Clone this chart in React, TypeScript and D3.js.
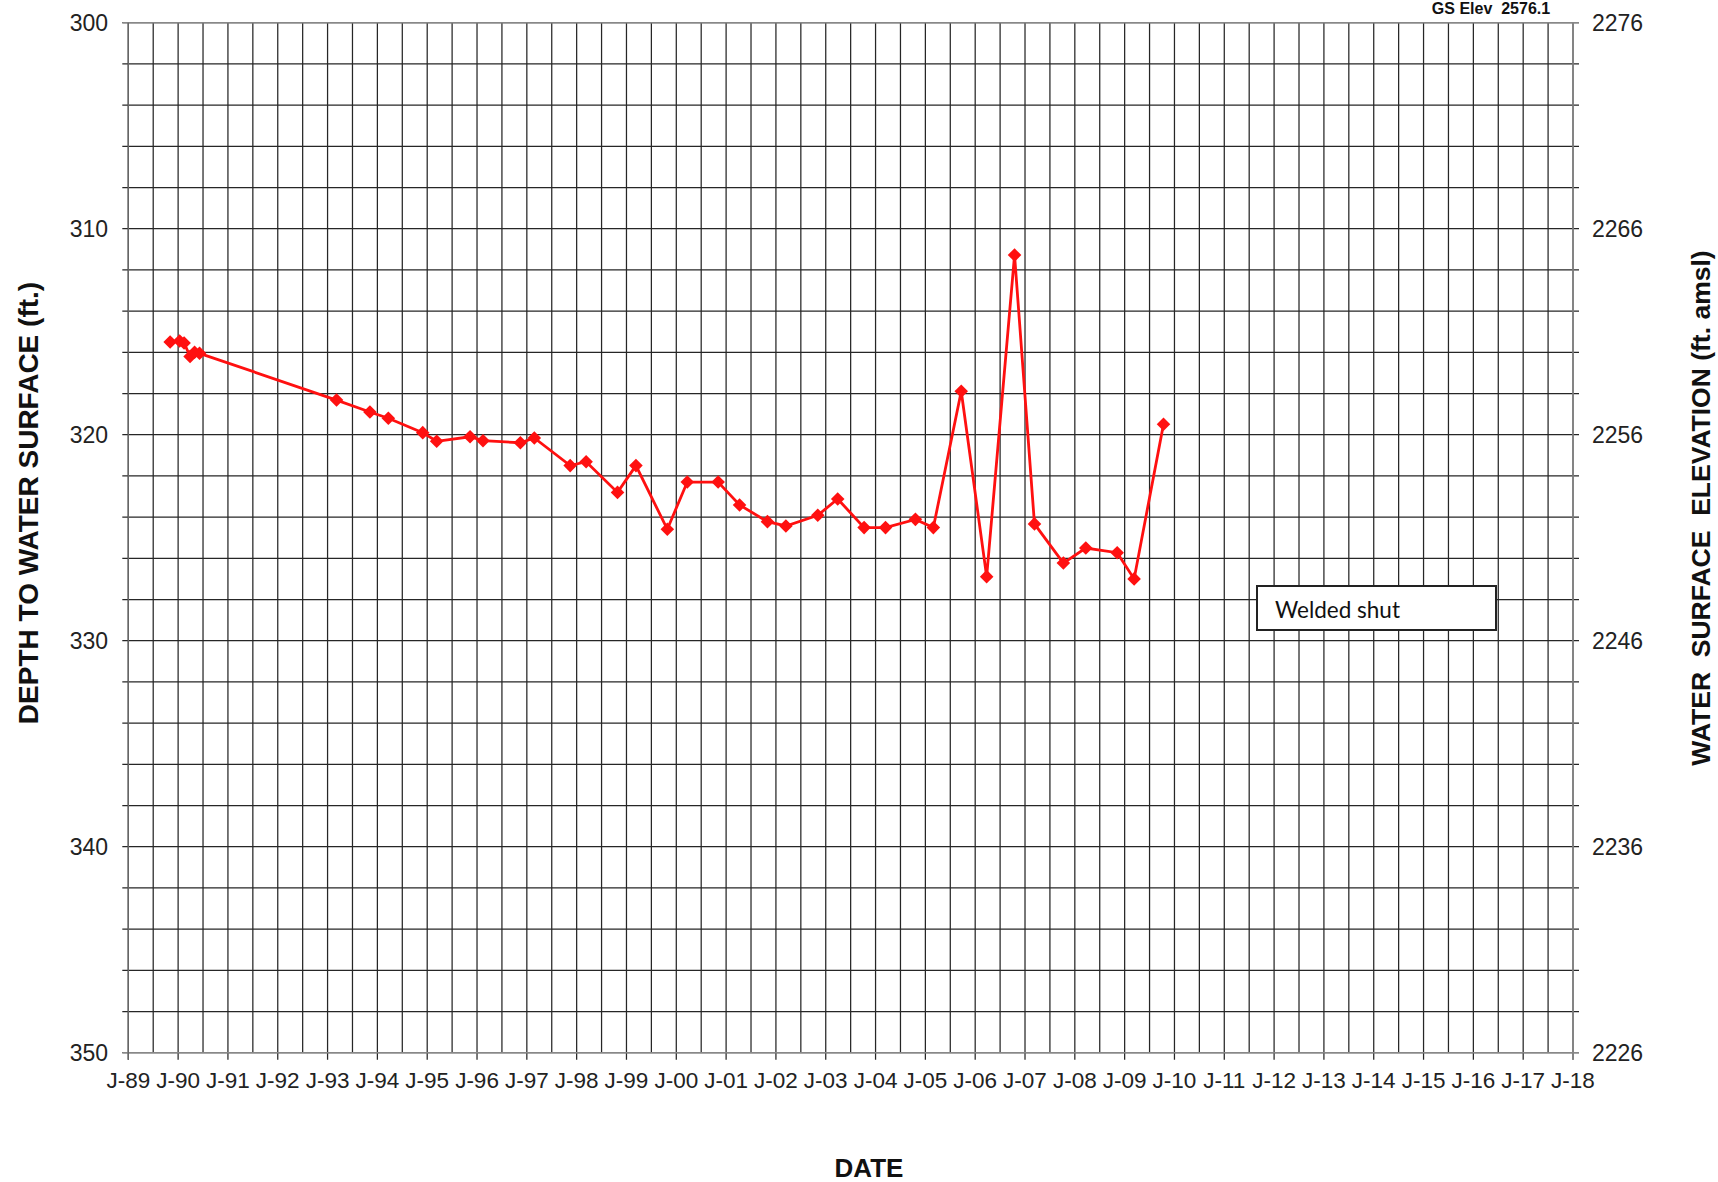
import React from "react";
import * as d3 from "d3";

const years = [1989.84, 1990.03, 1990.12, 1990.24, 1990.33, 1990.43, 1993.18, 1993.85, 1994.22, 1994.91, 1995.19, 1995.86, 1996.12, 1996.87, 1997.15, 1997.87, 1998.19, 1998.82, 1999.19, 1999.82, 2000.22, 2000.84, 2001.27, 2001.83, 2002.2, 2002.84, 2003.24, 2003.77, 2004.2, 2004.8, 2005.16, 2005.72, 2006.23, 2006.79, 2007.19, 2007.77, 2008.22, 2008.85, 2009.19, 2009.78];
const depths = [315.5, 315.45, 315.55, 316.2, 316.0, 316.05, 318.32, 318.9, 319.2, 319.9, 320.32, 320.1, 320.29, 320.39, 320.16, 321.5, 321.31, 322.8, 321.5, 324.59, 322.3, 322.3, 323.41, 324.22, 324.43, 323.91, 323.12, 324.51, 324.51, 324.11, 324.51, 317.89, 326.89, 311.28, 324.33, 326.23, 325.5, 325.73, 327.0, 319.49];

const xTickYears = d3.range(1989, 2019);
const xTickLabels = ["J-89", "J-90", "J-91", "J-92", "J-93", "J-94", "J-95", "J-96", "J-97", "J-98", "J-99", "J-00", "J-01", "J-02", "J-03", "J-04", "J-05", "J-06", "J-07", "J-08", "J-09", "J-10", "J-11", "J-12", "J-13", "J-14", "J-15", "J-16", "J-17", "J-18"];
const depthTicks = [300, 310, 320, 330, 340, 350];
const elevTickLabels = ["2276", "2266", "2256", "2246", "2236", "2226"];

const W = 1718;
const H = 1182;
const FONT = "'Liberation Sans', Arial, sans-serif";

export default function App() {
  const x = d3.scaleLinear().domain([1989, 2018]).range([128.3, 1573]);
  const y = d3.scaleLinear().domain([300, 350]).range([22.7, 1052.7]);
  const [x0, x1] = x.range();
  const [y0, y1] = y.range();

  const minorY = d3.range(300, 351, 2);
  const minorX = d3.range(1989, 2018.01, 0.5);

  const pts = years.map((yr, i) => [x(yr), y(depths[i])] as [number, number]);
  const line = d3.line()(pts) || "";
  const diamond = d3.symbol(d3.symbolSquare, 92)() || "";

  return (
    <svg width={W} height={H} style={{ position: "absolute", left: 0, top: 0, display: "block", background: "#fff" }} fontFamily={FONT}>
      <rect x={0} y={0} width={W} height={H} fill="#fff" />
      {/* horizontal grid */}
      {minorY.map((d) => (
        <line key={"h" + d} x1={x0 - 6} x2={x1 + 6} y1={y(d)} y2={y(d)} stroke="#262626" strokeWidth={1.25} />
      ))}
      {/* vertical grid */}
      {minorX.map((d) => (
        <line key={"v" + d} x1={x(d)} x2={x(d)} y1={y0} y2={Number.isInteger(d) ? y1 + 7 : y1} stroke="#262626" strokeWidth={1.25} />
      ))}
      {/* frame */}
      <line x1={x0 - 6} x2={x1 + 6} y1={y0} y2={y0} stroke="#888" strokeWidth={1.6} />
      <line x1={x0 - 6} x2={x1 + 6} y1={y1} y2={y1} stroke="#888" strokeWidth={1.6} />
      <line x1={x0} x2={x0} y1={y0} y2={y1 + 7} stroke="#666" strokeWidth={1.4} />
      <line x1={x1} x2={x1} y1={y0} y2={y1 + 7} stroke="#888" strokeWidth={1.6} />

      {/* left tick labels */}
      {depthTicks.map((d) => (
        <text key={"l" + d} x={108} y={y(d)} dy="0.36em" textAnchor="end" fontSize={23} fill="#222">
          {d}
        </text>
      ))}
      {/* right tick labels */}
      {depthTicks.map((d, i) => (
        <text key={"r" + d} x={1592} y={y(d)} dy="0.36em" textAnchor="start" fontSize={23} fill="#222">
          {elevTickLabels[i]}
        </text>
      ))}
      {/* bottom tick labels */}
      {xTickYears.map((yr, i) => (
        <text key={"x" + yr} x={x(yr)} y={1088} textAnchor="middle" fontSize={22.5} fill="#222">
          {xTickLabels[i]}
        </text>
      ))}

      {/* data */}
      <path d={line} fill="none" stroke="#ff1010" strokeWidth={2.8} />
      {pts.map(([px, py], i) => (
        <path key={"p" + i} d={diamond} transform={`translate(${px},${py}) rotate(45)`} fill="#ff1010" />
      ))}

      {/* annotation box */}
      <rect x={1257} y={586} width={239} height={44} fill="#fff" stroke="#222" strokeWidth={2} />
      <text x={1275} y={618} fontSize={22.5} fontFamily="Lato, 'Open Sans', sans-serif" fill="#111">
        Welded shut
      </text>

      {/* titles */}
      <text x={1491} y={14} textAnchor="middle" fontSize={16} fontWeight="bold" fill="#111" style={{ whiteSpace: "pre" }}>
        {"GS Elev  2576.1"}
      </text>
      <text x={869} y={1177} textAnchor="middle" fontSize={26} fontWeight="bold" fill="#111">
        DATE
      </text>
      <text transform="translate(38,503) rotate(-90)" textAnchor="middle" fontSize={28} fontWeight="bold" fill="#111">
        DEPTH TO WATER SURFACE (ft.)
      </text>
      <text transform="translate(1710,508) rotate(-90)" textAnchor="middle" fontSize={26.5} fontWeight="bold" fill="#111" style={{ whiteSpace: "pre" }}>
        {"WATER  SURFACE  ELEVATION (ft. amsl)"}
      </text>
    </svg>
  );
}
